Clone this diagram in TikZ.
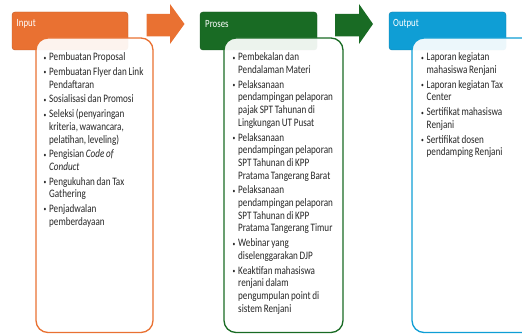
\documentclass[tikz,border=0pt]{standalone}
\usepackage{fontspec}
\setmainfont[FakeStretch=0.8]{Carlito}
\definecolor{cOrange}{HTML}{E97132}
\definecolor{cGreen}{HTML}{196B24}
\definecolor{cBlue}{HTML}{0F9ED5}
\newcommand{\itm}[1]{\par\spaceskip=1.7pt plus 0.5pt minus 0.3pt\relax\noindent\hangindent=5.5pt\hangafter=1\makebox[5.5pt][l]{\raisebox{0.6pt}{\scriptsize•}}#1\par\vspace{2pt}}
\tikzset{
  header/.style={draw=#1!80!black, line width=0.4pt, fill=#1, rounded corners=3pt},
  body/.style={draw=#1, line width=1.3pt, fill=white, fill opacity=0.92, rounded corners=12pt},
  htext/.style={text=white, anchor=west, inner sep=0pt, font=\fontsize{11}{13}\selectfont},
  btext/.style={anchor=north west, inner sep=0pt, text width=#1, align=left, font=\fontsize{11.4}{12.7}\selectfont, text=black!85}
}
\begin{document}
\begin{tikzpicture}[x=1pt,y=-1pt]
\useasboundingbox (0,0) rectangle (522,334);
% arrows
\fill[cOrange] (146.7,14) -- (170,14) -- (170,4) -- (184.5,24) -- (170,44) -- (170,36.5) -- (146.7,36.5) -- cycle;
\fill[cGreen] (335,14) -- (359,14) -- (359,4) -- (373,24) -- (359,44) -- (359,36.5) -- (335,36.5) -- cycle;
% headers
\draw[header=cOrange] (12,12) rectangle (128,50);
\node[htext] (hin) at (16.5,24) {Input};
\draw[header=cGreen] (200,12) rectangle (317,50);
\node[htext] (hpr) at (205,24) {Proses};
\draw[header=cBlue] (389,12) rectangle (506,50);
\node[htext] (hout) at (393,24) {Output};
% bodies
\draw[body=cOrange] (36,38) rectangle (153,332.5);
\draw[body=cGreen] (224,38) rectangle (343,332.5);
\draw[body=cBlue] (412,38) rectangle (540,332.5);
% texts
\node[btext=110pt] (tin) at (43.5,48) {%
\itm{Pembuatan Proposal}
\itm{Pembuatan Flyer dan Link\newline Pendaftaran}
\itm{Sosialisasi dan Promosi}
\itm{Seleksi (penyaringan\newline kriteria, wawancara,\newline pelatihan, leveling)}
\itm{Pengisian \textit{Code of\newline Conduct}}
\itm{Pengukuhan dan Tax\newline Gathering}
\itm{Penjadwalan\newline pemberdayaan}};
\node[btext=112pt] (tpr) at (232.5,48) {%
\itm{Pembekalan dan\newline Pendalaman Materi}
\itm{Pelaksanaan\newline pendampingan pelaporan\newline pajak SPT Tahunan di\newline Lingkungan UT Pusat}
\itm{Pelaksanaan\newline pendampingan pelaporan\newline SPT Tahunan di KPP\newline Pratama Tangerang Barat}
\itm{Pelaksanaan\newline pendampingan pelaporan\newline SPT Tahunan di KPP\newline Pratama Tangerang Timur}
\itm{Webinar yang\newline diselenggarakan DJP}
\itm{Keaktifan mahasiswa\newline renjani dalam\newline pengumpulan point di\newline sistem Renjani}};
\node[btext=100pt] (tout) at (421,48) {%
\itm{Laporan kegiatan\newline mahasiswa Renjani}
\itm{Laporan kegiatan Tax\newline Center}
\itm{Sertifikat mahasiswa\newline Renjani}
\itm{Sertifikat dosen\newline pendamping Renjani}};
\end{tikzpicture}
\end{document}
